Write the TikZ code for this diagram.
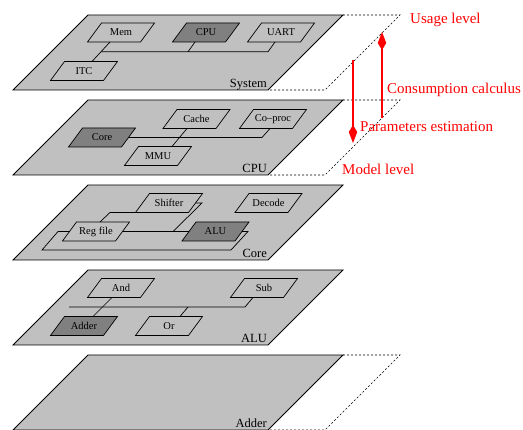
\documentclass[tikz,border=0pt]{standalone}
\usepackage{fontspec}
\setmainfont{Liberation Serif}
\usetikzlibrary{arrows.meta,calc}
\definecolor{planegray}{RGB}{192,192,192}
\definecolor{hotgray}{RGB}{128,128,128}
\newcommand\layerplane[3]{% name, top y, label
  \path[plane] (88,#2) -- (343,#2) -- (268,{#2+75}) -- (13,{#2+75}) -- cycle;
  \node[plabel] (lab#1) at (267,{#2+72.5}) {#3};
}
\newcommand\layerext[1]{%
  \draw[ext] (343,#1) -- (400,#1) -- (325,{#1+75}) -- (268,{#1+75});
}
\newcommand\pbox[5]{% name, cx, cy, fill, text
  \path[boxline, fill=#4] ({#2-19.5},{#3-9.5}) -- ({#2+33.5},{#3-9.5})
    -- ({#2+19.5},{#3+9.5}) -- ({#2-33.5},{#3+9.5}) -- cycle;
  \node[boxtext] (#1) at (#2,#3) {#5};
}
\begin{document}
\begin{tikzpicture}[x=1pt,y=-1pt,
  plane/.style={fill=planegray, draw=black, line width=0.8pt},
  ext/.style={draw=black, dash pattern=on 2pt off 2pt, line width=0.7pt},
  boxline/.style={draw=black, line width=0.7pt},
  boxtext/.style={inner sep=1pt, minimum width=40pt, minimum height=19pt,
    font=\fontsize{10.5}{12}\selectfont},
  wire/.style={draw=black, line width=0.7pt},
  plabel/.style={anchor=base east, inner sep=0pt, font=\fontsize{12.5}{14}\selectfont},
  redtxt/.style={text=red, anchor=base west, inner sep=0pt, font=\fontsize{15}{17}\selectfont},
  redarrow/.style={draw=red, line width=1.8pt, -{Kite[length=18pt,width=8.5pt,inset=7pt]}}
]
\useasboundingbox (0,0) rectangle (523,430);

% planes
\layerplane{sys}{15}{System}
\layerext{15}
\layerplane{cpu}{100}{CPU}
\layerext{100}
\layerplane{core}{185}{Core}
\layerplane{alu}{270}{ALU}
\layerplane{add}{355}{Adder}
\layerext{355}

% System level
\pbox{mem}{121}{32.5}{none}{Mem}
\pbox{cpu}{206}{32.5}{hotgray}{CPU}
\pbox{uart}{281}{32.5}{none}{UART}
\pbox{itc}{84}{71}{none}{ITC}
\coordinate (s1) at ($(mem.center)+(-11,9.5)$);
\coordinate (s2) at ($(itc.center)+(8,-9.5)$);
\coordinate (sm) at ($(s1)!0.5!(s2)$);
\coordinate (u1) at ($(uart.center)+(-6,9.5)$);
\coordinate (u2) at ($(u1)+(-7,9.75)$);
\draw[wire] (s1) -- (s2);
\draw[wire] (sm) -- (sm -| u2) -- (u1);
\draw[wire] ($(cpu.center)+(-11,9.5)$) -- ++(-7,9.75);

% CPU level
\pbox{cache}{196.5}{119}{none}{Cache}
\pbox{coproc}{273}{119}{none}{Co–proc}
\pbox{corebox}{102}{137.5}{hotgray}{Core}
\pbox{mmu}{158}{156}{none}{MMU}
\draw[wire] ($(corebox.center)+(26.5,0)$) -- ($(coproc.center)+(-11,18.5)$) -- ($(coproc.center)+(-3,9.5)$);
\draw[wire] ($(cache.center)+(-9.5,9.5)$) -- ($(mmu.center)+(14,-9.5)$);

% Core level
\pbox{shifter}{169}{203}{none}{Shifter}
\pbox{decode}{268.5}{203}{none}{Decode}
\pbox{regfile}{96}{231.5}{none}{Reg file}
\pbox{alubox}{215.5}{231.5}{hotgray}{ALU}
\draw[wire] ($(regfile.center)+(4,-9.5)$) -- ++(10,-9.5) -- ($(shifter.center)+(-33.5,9.5)$);
\draw[wire] ($(shifter.center)+(26.5,0)$) -- ++(6.5,0) -- ($(alubox.center)+(-42.5,0)$);
\draw[wire] ($(regfile.center)+(26.5,0)$) -- ($(alubox.center)+(-26.5,0)$);
\draw[wire] ($(alubox.center)+(26.5,0)$) -- ++(6,0) -- ++(-17,18.5)
  -- ($(regfile.center)+(-54,18.5)$) -- ++(16,-18.5) -- ($(regfile.center)+(-26.5,0)$);

% ALU level
\pbox{gand}{121}{288}{none}{And}
\pbox{gsub}{264}{288}{none}{Sub}
\pbox{adder}{84}{326}{hotgray}{Adder}
\pbox{gor}{169}{326}{none}{Or}
\draw[wire] ($(gand.center)+(-9,9.5)$) -- ($(adder.center)+(9,-9.5)$);
\draw[wire] ($(gsub.center)+(-11,9.5)$) -- ++(-8,9.5) -- ($(adder.center)+(-15,-19)$);
\draw[wire] ($(gor.center)+(11,-9.5)$) -- ++(8,-9.5);

% red annotations
\coordinate (ccS) at (382,118);
\coordinate (ccE) at (382,32);
\coordinate (peS) at (353,60);
\coordinate (peE) at (353,143);
\draw[redarrow] (ccS) -- (ccE);
\draw[redarrow] (peS) -- (peE);
\node[redtxt] (usage) at (410,24) {Usage level};
\node[redtxt] (cons) at (387,94) {Consumption calculus};
\node[redtxt] (param) at (360,132) {Parameters estimation};
\node[redtxt] (model) at (342,175) {Model level};
\end{tikzpicture}
\end{document}
